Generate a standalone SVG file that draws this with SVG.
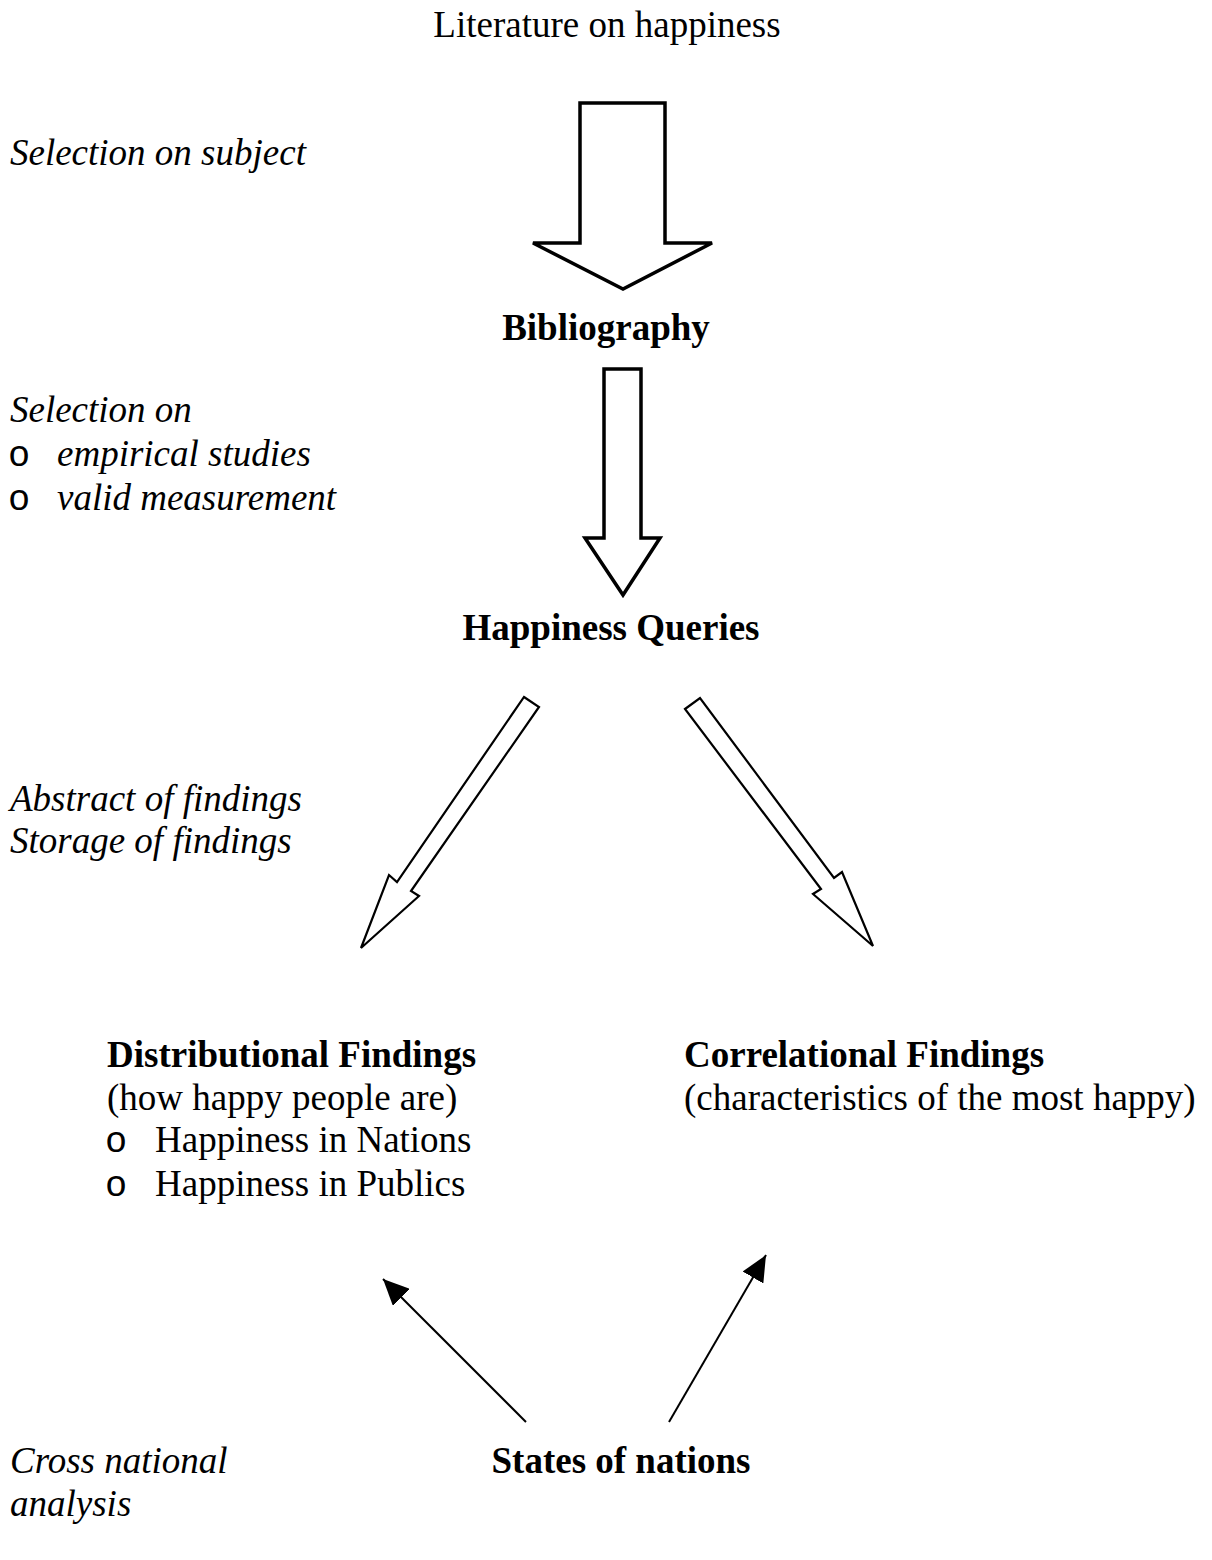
<svg xmlns="http://www.w3.org/2000/svg" width="1212" height="1560" viewBox="0 0 1212 1560">
<style>
text{font-family:"Liberation Serif","Times New Roman",serif;font-size:37px;fill:#000}
.b{font-weight:bold}
.i{font-style:italic}
.m{text-anchor:middle}
.bul{font-family:"Liberation Mono","Courier New",monospace;font-size:37px}
.big{fill:#fff;stroke:#000;stroke-width:3.5;stroke-linejoin:miter}
.dia{fill:#fff;stroke:#000;stroke-width:2.2;stroke-linejoin:miter}
.thin{stroke:#000;stroke-width:2;fill:none}
</style>
<defs>
<marker id="ah" markerUnits="userSpaceOnUse" markerWidth="28" markerHeight="24" refX="26" refY="12" orient="auto">
<path d="M0,0 L26,12 L0,24 Z" fill="#000"/>
</marker>
</defs>
<rect width="1212" height="1560" fill="#fff"/>
<g id="literature"><text class="m" x="607" y="37">Literature on happiness</text></g>
<g id="label-selection-subject"><text class="i" x="10" y="165">Selection on subject</text></g>
<g id="bibliography"><text class="b m" x="606" y="340">Bibliography</text></g>
<g id="label-selection-on">
<text class="i" x="10" y="422">Selection on</text>
<text class="bul" x="8" y="466">o</text><text class="i" x="57" y="466">empirical studies</text>
<text class="bul" x="8" y="510">o</text><text class="i" x="57" y="510">valid measurement</text>
</g>
<g id="happiness-queries"><text class="b m" x="611" y="640">Happiness Queries</text></g>
<g id="label-abstract">
<text class="i" x="10" y="811">Abstract of findings</text>
<text class="i" x="10" y="853">Storage of findings</text>
</g>
<g id="distributional">
<text class="b" x="107" y="1067">Distributional Findings</text>
<text x="107" y="1110">(how happy people are)</text>
<text class="bul" x="105" y="1152">o</text><text x="155" y="1152">Happiness in Nations</text>
<text class="bul" x="105" y="1196">o</text><text x="155" y="1196">Happiness in Publics</text>
</g>
<g id="correlational">
<text class="b" x="684" y="1067">Correlational Findings</text>
<text x="684" y="1110">(characteristics of the most happy)</text>
</g>
<g id="label-cross">
<text class="i" x="10" y="1473">Cross national</text>
<text class="i" x="10" y="1516">analysis</text>
</g>
<g id="states"><text class="b m" x="621" y="1473">States of nations</text></g>
<g id="connectors">
<polygon class="big" points="580,103 665,103 665,243 712,243 623,289 533,243 580,243"/>
<polygon class="big" points="604,369 641,369 641,538 660,538 623,595 585,538 604,538"/>
<polygon class="dia" points="524,697 539,707 411,891 419,896 361,948 389,875 397,882"/>
<polygon class="dia" points="685,709 700,698 834,878 842,872 873,946 813,894 821,889"/>
<line class="thin" x1="526" y1="1422" x2="383" y2="1279" marker-end="url(#ah)"/>
<line class="thin" x1="669" y1="1422" x2="766" y2="1255" marker-end="url(#ah)"/>
</g>
</svg>
